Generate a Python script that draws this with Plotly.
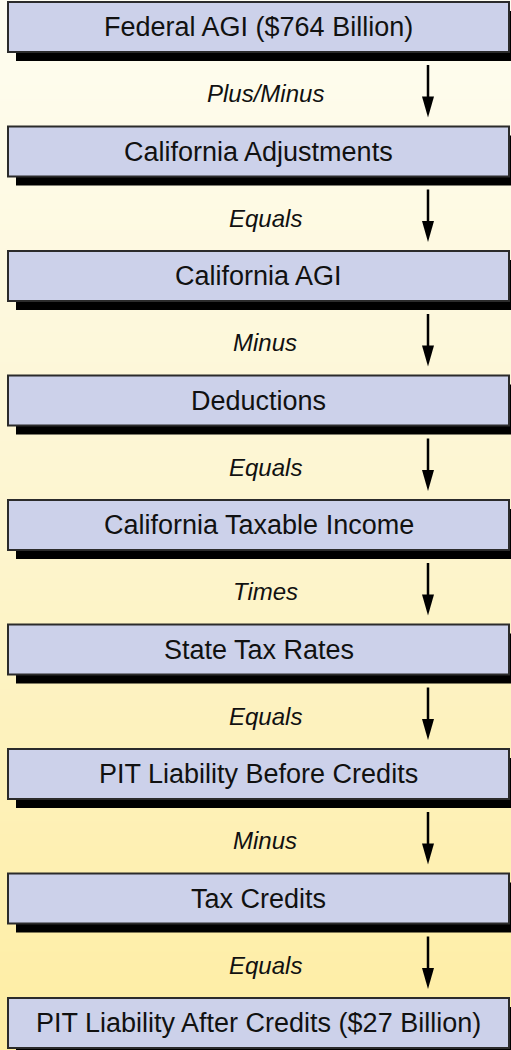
import numpy as np
import plotly.graph_objects as go

# ---- data ----
box_labels = [
    "Federal AGI ($764 Billion)",
    "California Adjustments",
    "California AGI",
    "Deductions",
    "California Taxable Income",
    "State Tax Rates",
    "PIT Liability Before Credits",
    "Tax Credits",
    "PIT Liability After Credits ($27 Billion)",
]
operators = ["Plus/Minus", "Equals", "Minus", "Equals", "Times", "Equals", "Minus", "Equals"]

# ---- geometry / style ----
W, H = 511, 1050
BOX_L, BOX_R = 8, 509
TOP0, STEP, BOX_H = 2, 124.5, 50
SH_DX, SH_DY = 8, 9
ARROW_X = 428
FONT = "Liberation Sans, Arial, Helvetica, sans-serif"

fig = go.Figure()

# background gradient
ys = np.linspace(0, H, 60)
fig.add_trace(go.Heatmap(
    x=[0, W], y=ys, z=[[v, v] for v in ys / H],
    colorscale=[[0, "#FEFDF1"], [0.5, "#FDF5CF"], [1, "#FEEDA2"]],
    showscale=False, zsmooth="best", hoverinfo="skip",
))

shapes = []
annotations = []
for i, label in enumerate(box_labels):
    top = TOP0 + STEP * i
    bot = top + BOX_H
    shapes.append(dict(type="rect", x0=BOX_L + SH_DX, x1=BOX_R + SH_DX,
                       y0=top + SH_DY, y1=bot + SH_DY,
                       fillcolor="#000000", line=dict(width=0), layer="above"))
    shapes.append(dict(type="rect", x0=BOX_L, x1=BOX_R, y0=top, y1=bot,
                       fillcolor="#CCD1EA", line=dict(color="#2B2B2B", width=2),
                       layer="above"))
    annotations.append(dict(x=(BOX_L + BOX_R) / 2, y=(top + bot) / 2, text=label,
                            showarrow=False, xanchor="center", yanchor="middle",
                            font=dict(family=FONT, size=27, color="#111111")))

for i, op in enumerate(operators):
    top = TOP0 + STEP * i
    start = top + BOX_H + SH_DY + 4
    nxt = TOP0 + STEP * (i + 1)
    tip = nxt - 9
    head = 21
    shapes.append(dict(type="line", x0=ARROW_X, x1=ARROW_X, y0=start, y1=tip - head + 2,
                       line=dict(color="#000000", width=2.5), layer="above"))
    shapes.append(dict(type="path",
                       path=f"M {ARROW_X-6},{tip-head} L {ARROW_X+6},{tip-head} L {ARROW_X},{tip} Z",
                       fillcolor="#000000", line=dict(width=0), layer="above"))
    annotations.append(dict(x=265, y=(top + BOX_H + SH_DY + nxt) / 2, text=f"<i>{op}</i>",
                            showarrow=False, xanchor="center", yanchor="middle",
                            font=dict(family=FONT, size=24, color="#111111")))

fig.update_layout(
    width=W, height=H,
    margin=dict(l=0, r=0, t=0, b=0),
    paper_bgcolor="#FEF8DC", plot_bgcolor="rgba(0,0,0,0)",
    xaxis=dict(range=[0, W], visible=False, fixedrange=True),
    yaxis=dict(range=[H, 0], visible=False, fixedrange=True),
    shapes=shapes, annotations=annotations,
    showlegend=False,
)

fig.write_html(
    "out.html",
    config={"displayModeBar": False},
    post_script="document.body.style.margin='0';document.body.style.overflow='hidden';",
)
